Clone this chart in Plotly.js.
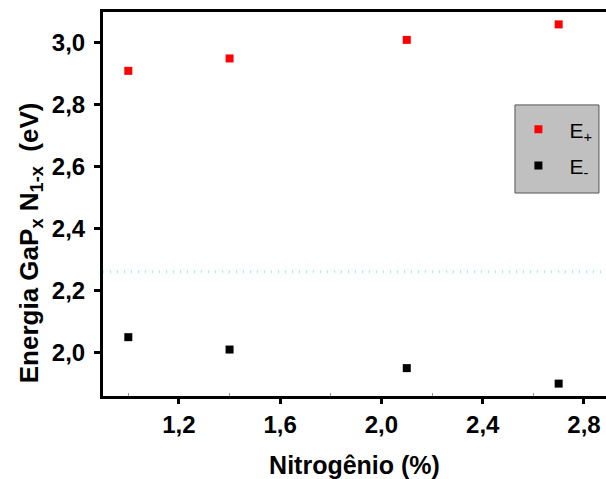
<!DOCTYPE html>
<html>
<head>
<meta charset="utf-8">
<script src="https://cdn.plot.ly/plotly-3.0.1.min.js"></script>
<style>html,body{margin:0;padding:0;background:#fff;overflow:hidden}</style>
</head>
<body>
<div id="chart" style="width:606px;height:479px"></div>
<script>
const nitrogen = [1.0, 1.4, 2.1, 2.7];
const ePlus = [2.91, 2.95, 3.01, 3.06];
const eMinus = [2.05, 2.01, 1.95, 1.90];
const xTickVals = [1.2, 1.6, 2.0, 2.4, 2.8];
const xTickText = ['1,2', '1,6', '2,0', '2,4', '2,8'];
const yTickVals = [2.0, 2.2, 2.4, 2.6, 2.8, 3.0];
const yTickText = ['2,0', '2,2', '2,4', '2,6', '2,8', '3,0'];
const refLevel = 2.261;

const FONT = 'Liberation Sans, Arial, sans-serif';
const bold = a => a.map(t => '<b>' + t + '</b>');

const traces = [
  {x: nitrogen, y: ePlus, name: 'E<sub>+</sub>', mode: 'markers', type: 'scatter', legendgroup: 'a',
   marker: {symbol: 'square', size: 8, color: '#ff0000'}},
  {x: nitrogen, y: eMinus, name: 'E<sub>-</sub>', mode: 'markers', type: 'scatter', legendgroup: 'b',
   marker: {symbol: 'square', size: 8, color: '#000000'}}
];

const layout = {
  width: 606, height: 479,
  margin: {l: 103, r: 0, t: 12, b: 83},
  paper_bgcolor: '#fff', plot_bgcolor: '#fff',
  font: {family: FONT, color: '#000'},
  showlegend: true,
  legend: {
    x: 0.804, y: 0.747, xanchor: 'left', yanchor: 'top',
    bgcolor: 'rgba(0,0,0,0)', borderwidth: 0,
    font: {family: FONT, size: 21, color: '#000'},
    itemwidth: 52, tracegroupgap: 6
  },
  xaxis: {
    range: [0.9, 2.887], showgrid: false, zeroline: false,
    showline: true, linewidth: 3, linecolor: '#000', mirror: true,
    ticks: 'outside', ticklen: 5, tickwidth: 3, tickcolor: '#000',
    tickvals: xTickVals, ticktext: bold(xTickText),
    tickfont: {family: FONT, size: 24, color: '#000', weight: 700},
    minor: {tickvals: [1.0, 1.4, 1.8, 2.2, 2.6], ticks: 'inside', ticklen: 3, tickwidth: 1, tickcolor: '#999'},
    title: {text: '<b>Nitrogênio (%)</b>', font: {family: FONT, size: 25, color: '#000', weight: 700}, standoff: 21}
  },
  yaxis: {
    range: [1.86, 3.1], showgrid: false, zeroline: false,
    showline: true, linewidth: 3, linecolor: '#000', mirror: false,
    ticks: 'outside', ticklen: 6, tickwidth: 3, tickcolor: '#000',
    ticklabelstandoff: 4,
    tickvals: yTickVals, ticktext: bold(yTickText),
    tickfont: {family: FONT, size: 24, color: '#000', weight: 700}
  },
  annotations: [
    {text: '<b>Energia GaP<sub>x</sub> N<sub>1-x</sub>  (eV)</b>', textangle: -90,
     xref: 'paper', yref: 'paper', x: -0.145, y: 0.398, xanchor: 'center', yanchor: 'middle',
     showarrow: false, font: {family: FONT, size: 26, color: '#000', weight: 700}}
  ],
  shapes: [
    {type: 'line', xref: 'paper', x0: 0, x1: 1, yref: 'y', y0: refLevel, y1: refLevel,
     line: {color: '#9ff5f5', width: 3, dash: '1px,6px'}, layer: 'below'},
    {type: 'rect', xref: 'paper', yref: 'paper', x0: 0.819, x1: 0.986, y0: 0.5286, y1: 0.758,
     fillcolor: '#c0c0c0', line: {color: '#555', width: 1}, layer: 'above'}
  ]
};

Plotly.newPlot('chart', traces, layout, {displayModeBar: false, staticPlot: true});
</script>
</body>
</html>
